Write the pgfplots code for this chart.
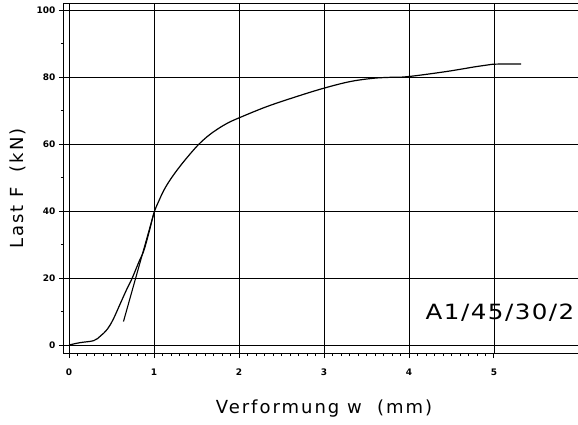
\documentclass[border=0pt]{standalone}
\usepackage{fontspec}
\setmainfont{DejaVu Sans}
\newfontfamily\plotfont[LetterSpace=11]{DejaVu Sans}
\newfontfamily\tagfont[LetterSpace=6]{DejaVu Sans}
\usepackage{graphicx}
\usepackage{pgfplots}
\pgfplotsset{compat=1.18}
\begin{document}
\begin{tikzpicture}
\begin{axis}[
    name=ax,
    scale only axis,
    width=514pt, height=350pt,
    xmin=-0.06, xmax=5.99,
    ymin=-2.4, ymax=102.1,
    xtick={0,1,2,3,4,5},
    ytick={0,20,40,60,80,100},
    minor x tick num=9,
    minor y tick num=1,
    tick align=outside,
    tick pos=left,
    major tick length=5pt,
    minor tick length=3pt,
    grid=major,
    major grid style={black, line width=0.6pt},
    axis line style={line width=1pt},
    tick style={black, line width=0.8pt},
    /pgf/number format/assume math mode=true,
    ticklabel style={font=\bfseries\fontsize{9}{10}\selectfont},
    xticklabel style={yshift=-7pt},
    xlabel={\plotfont\fontsize{18}{20}\selectfont Verformung w\ \ (mm)},
    ylabel={\plotfont\fontsize{18}{20}\selectfont Last F\ \ (kN)},
    xlabel style={at={(axis description cs:0.506,-0.174)}, anchor=base},
    ylabel style={at={(axis description cs:-0.078,0.47)}, anchor=base},
]
\addplot[black, line width=1.2pt, smooth, tension=0.6] coordinates {
    (0,0) (0.13,0.7) (0.29,1.3) (0.37,2.7) (0.45,4.7) (0.52,7.7)
    (0.60,12.2) (0.68,16.7) (0.74,19.8) (0.82,24.7) (0.88,28.2)
    (0.94,33.6) (1.0,39.5) (1.06,43.2) (1.12,46.4) (1.20,49.7)
    (1.31,53.5) (1.43,57.2) (1.53,60.0) (1.64,62.5) (1.75,64.5)
    (1.87,66.3) (2.0,67.8) (2.32,71.1) (2.67,74.1) (2.99,76.6)
    (3.30,78.6) (3.57,79.6) (3.77,79.9) (3.98,80.1) (4.43,81.6)
    (4.79,83.1) (4.98,83.8) (5.32,83.9)
};
\addplot[black, line width=1.1pt] coordinates {(0.64,7.0) (1.0,39.5)};
\node[anchor=east, inner sep=0pt]
    at (axis cs:5.95,9.6) {\scalebox{1.17}[1]{\tagfont\fontsize{21}{23}\selectfont A1/45/30/2}};
\end{axis}
\pgfresetboundingbox
\path ([xshift=-64pt,yshift=-71pt]ax.south west) rectangle ([yshift=3pt]ax.north east);
\end{tikzpicture}
\end{document}
